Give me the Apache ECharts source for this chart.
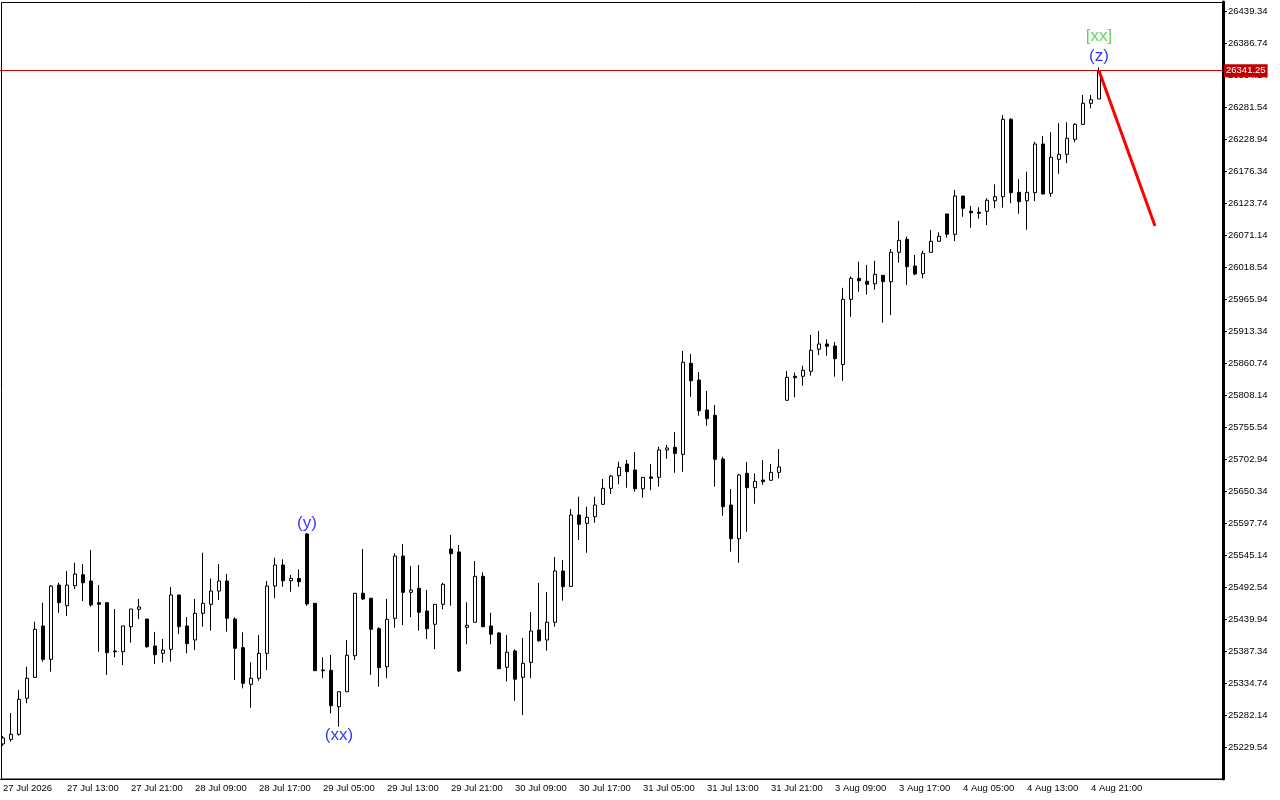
<!DOCTYPE html>
<html>
<head>
<meta charset="utf-8">
<title>Hourly candles</title>
<script src="https://cdn.jsdelivr.net/npm/echarts@6/dist/echarts.min.js"></script>
<style>
  html, body { margin: 0; padding: 0; background: #fff; }
  #chart { width: 1280px; height: 800px; }
</style>
</head>
<body>
<div id="chart"></div>
<script>
// time axis labels, one every 8 hourly bars
const timeLabels = [
  '27 Jul 2026', '27 Jul 13:00', '27 Jul 21:00', '28 Jul 09:00', '28 Jul 17:00',
  '29 Jul 05:00', '29 Jul 13:00', '29 Jul 21:00', '30 Jul 09:00', '30 Jul 17:00',
  '31 Jul 05:00', '31 Jul 13:00', '31 Jul 21:00', '3 Aug 09:00', '3 Aug 17:00',
  '4 Aug 05:00', '4 Aug 13:00', '4 Aug 21:00'
];

// price scale labels
const yTicks = [
  26439.34, 26386.74, 26334.14, 26281.54, 26228.94, 26176.34, 26123.74, 26071.14,
  26018.54, 25965.94, 25913.34, 25860.74, 25808.14, 25755.54, 25702.94, 25650.34,
  25597.74, 25545.14, 25492.54, 25439.94, 25387.34, 25334.74, 25282.14, 25229.54
];

// hourly bars: [open, close, low, high]
const bars = [
  [25234.5, 25244.3, 25231.2, 25247.6],
  [25242.2, 25250.4, 25238.2, 25285.4],
  [25250.4, 25308.0, 25248.1, 25323.2],
  [25309.6, 25342.5, 25301.4, 25361.5],
  [25344.1, 25423.0, 25343.0, 25435.5],
  [25428.5, 25373.7, 25369.8, 25466.8],
  [25373.7, 25494.1, 25353.3, 25495.7],
  [25495.7, 25466.8, 25450.3, 25499.5],
  [25461.8, 25495.7, 25444.9, 25518.8],
  [25494.6, 25513.9, 25489.2, 25532.4],
  [25512.7, 25499.5, 25469.6, 25530.3],
  [25502.3, 25463.0, 25460.2, 25553.3],
  [25466.8, 25464.1, 25386.2, 25495.7],
  [25466.8, 25384.6, 25348.1, 25466.8],
  [25387.4, 25386.2, 25377.1, 25456.4],
  [25386.2, 25428.5, 25364.4, 25428.5],
  [25427.3, 25456.4, 25401.0, 25456.4],
  [25455.9, 25459.7, 25439.9, 25472.8],
  [25439.9, 25394.4, 25392.7, 25439.9],
  [25395.5, 25381.2, 25366.0, 25418.6],
  [25383.5, 25388.9, 25368.1, 25407.0],
  [25390.1, 25479.4, 25369.8, 25492.5],
  [25479.4, 25427.3, 25415.3, 25479.4],
  [25428.5, 25399.4, 25383.5, 25443.2],
  [25405.4, 25449.3, 25388.9, 25472.8],
  [25449.3, 25465.8, 25427.3, 25548.9],
  [25464.1, 25485.9, 25420.7, 25506.6],
  [25485.9, 25502.3, 25471.2, 25530.3],
  [25502.3, 25441.1, 25419.1, 25513.9],
  [25439.9, 25391.8, 25339.7, 25442.7],
  [25392.8, 25334.2, 25326.0, 25418.1],
  [25332.6, 25342.5, 25294.1, 25368.8],
  [25342.5, 25383.5, 25338.5, 25413.6],
  [25383.5, 25494.1, 25356.1, 25502.3],
  [25494.1, 25528.6, 25474.0, 25540.7],
  [25528.6, 25502.8, 25493.0, 25538.0],
  [25502.8, 25506.6, 25484.7, 25512.2],
  [25506.6, 25501.1, 25493.0, 25521.6],
  [25579.6, 25464.6, 25461.3, 25581.2],
  [25465.8, 25355.0, 25355.0, 25465.8],
  [25356.1, 25355.0, 25342.6, 25377.1],
  [25355.6, 25297.4, 25284.9, 25380.8],
  [25295.8, 25320.4, 25262.9, 25320.4],
  [25320.4, 25380.3, 25320.4, 25405.4],
  [25379.6, 25482.2, 25372.5, 25482.2],
  [25482.2, 25472.8, 25471.2, 25554.9],
  [25474.0, 25423.0, 25348.1, 25474.0],
  [25424.0, 25359.9, 25328.6, 25426.3],
  [25361.5, 25439.4, 25342.6, 25472.8],
  [25441.1, 25543.4, 25425.6, 25547.9],
  [25543.4, 25483.8, 25430.1, 25563.2],
  [25483.8, 25487.6, 25443.0, 25527.0],
  [25490.4, 25450.9, 25420.7, 25528.6],
  [25453.1, 25424.0, 25406.9, 25487.6],
  [25431.3, 25464.1, 25390.5, 25464.1],
  [25464.1, 25497.0, 25455.9, 25499.5],
  [25554.9, 25547.2, 25461.8, 25578.0],
  [25550.0, 25354.5, 25352.8, 25561.5],
  [25426.3, 25429.6, 25398.4, 25467.4],
  [25434.6, 25510.1, 25434.6, 25535.3],
  [25510.1, 25427.3, 25426.3, 25516.7],
  [25428.5, 25414.8, 25398.4, 25450.3],
  [25417.0, 25358.3, 25357.3, 25418.1],
  [25360.6, 25385.3, 25337.2, 25413.6],
  [25387.4, 25341.0, 25305.7, 25390.1],
  [25344.1, 25367.1, 25282.1, 25408.7],
  [25368.7, 25420.2, 25342.6, 25451.4],
  [25421.8, 25404.2, 25402.6, 25499.1],
  [25405.4, 25434.6, 25387.9, 25484.3],
  [25434.6, 25518.8, 25427.3, 25541.8],
  [25518.8, 25493.0, 25470.1, 25536.9],
  [25493.6, 25610.8, 25493.6, 25620.7],
  [25610.8, 25595.6, 25569.7, 25640.9],
  [25597.2, 25607.1, 25548.9, 25624.5],
  [25608.0, 25627.3, 25598.2, 25640.9],
  [25628.4, 25654.7, 25628.4, 25670.0],
  [25654.7, 25674.9, 25645.4, 25676.6],
  [25675.5, 25689.3, 25661.3, 25698.5],
  [25694.7, 25682.0, 25655.7, 25701.3],
  [25684.8, 25654.0, 25649.1, 25714.4],
  [25654.0, 25672.8, 25639.3, 25672.8],
  [25673.3, 25671.2, 25651.8, 25694.7],
  [25672.8, 25717.7, 25657.4, 25723.1],
  [25717.7, 25721.0, 25703.4, 25725.9],
  [25722.1, 25712.2, 25680.3, 25747.3],
  [25710.6, 25861.9, 25681.9, 25880.5],
  [25860.2, 25831.6, 25805.3, 25875.5],
  [25832.8, 25782.3, 25774.1, 25845.9],
  [25783.5, 25769.2, 25757.6, 25814.7],
  [25774.7, 25702.4, 25657.4, 25791.7],
  [25702.9, 25624.5, 25609.7, 25706.7],
  [25627.3, 25571.9, 25550.6, 25653.6],
  [25571.9, 25676.6, 25532.4, 25678.2],
  [25679.4, 25655.7, 25583.4, 25697.9],
  [25655.7, 25666.2, 25629.4, 25679.4],
  [25668.4, 25665.6, 25660.5, 25701.3],
  [25667.9, 25681.0, 25667.9, 25694.7],
  [25681.0, 25689.8, 25671.2, 25719.3],
  [25799.4, 25837.2, 25799.4, 25847.6],
  [25838.9, 25836.6, 25804.3, 25844.8],
  [25838.9, 25848.7, 25823.4, 25856.3],
  [25847.1, 25881.6, 25839.9, 25906.8],
  [25883.3, 25892.0, 25873.8, 25913.3],
  [25892.0, 25888.2, 25872.7, 25899.7],
  [25888.7, 25867.8, 25838.3, 25895.3],
  [25858.3, 25965.4, 25831.6, 25984.3],
  [25965.4, 25999.9, 25936.9, 26003.2],
  [25999.9, 25996.0, 25978.0, 26027.3],
  [25995.0, 25990.1, 25973.1, 26022.0],
  [25991.0, 26006.5, 25981.3, 26028.9],
  [26004.9, 25994.4, 25927.0, 26004.9],
  [25994.4, 26042.7, 25939.6, 26048.1],
  [26042.7, 26062.4, 26025.6, 26094.2],
  [26064.1, 26019.0, 25989.2, 26068.3],
  [26020.2, 26007.0, 26004.9, 26038.3],
  [26007.5, 26041.0, 26000.0, 26045.3],
  [26042.7, 26060.8, 26042.7, 26079.4],
  [26060.8, 26069.0, 26060.8, 26075.6],
  [26105.7, 26072.3, 26066.8, 26105.7],
  [26072.3, 26135.2, 26061.3, 26145.1],
  [26135.2, 26115.1, 26101.2, 26135.2],
  [26110.1, 26107.8, 26083.1, 26118.8],
  [26108.4, 26106.8, 26098.0, 26116.7],
  [26110.1, 26128.2, 26087.6, 26131.5],
  [26127.5, 26134.1, 26115.1, 26154.4],
  [26134.1, 26261.3, 26116.1, 26268.4],
  [26261.3, 26140.7, 26123.3, 26263.0],
  [26141.3, 26125.9, 26106.1, 26162.8],
  [26127.5, 26141.3, 26079.8, 26175.3],
  [26140.7, 26220.7, 26127.0, 26224.5],
  [26220.7, 26138.6, 26138.1, 26233.9],
  [26139.7, 26198.9, 26134.1, 26240.0],
  [26195.6, 26203.8, 26171.7, 26254.8],
  [26203.8, 26230.1, 26189.3, 26256.4],
  [26228.5, 26253.1, 26223.6, 26254.8],
  [26253.1, 26287.6, 26252.0, 26301.2],
  [26287.6, 26293.5, 26279.4, 26301.2],
  [26294.7, 26341.25, 26294.7, 26346.8]
];

// number of bar slots on the axis (empty space right of the last bar)
const slotCount = 153;
const lastPrice = 26341.25;

// red projection line: [bar index, price]
const projection = [[137, 26341.25], [144, 26085.9]];

// wave labels: [bar index, text, 'high' | 'low']
const waveLabels = [
  [38, '(y)', 'high'],
  [42, '(xx)', 'low'],
  [137, '{g|[xx]}\n{b|(z)}', 'high']
];

const categories = [];
for (let i = 0; i < slotCount; i++) categories.push(String(i));

function tickShown(index) {
  return index % 8 === 0 && index / 8 < timeLabels.length;
}

const labelPoints = waveLabels.map(w => {
  const bar = bars[w[0]];
  return {
    value: [w[0], w[2] === 'high' ? bar[3] : bar[2]],
    label: {
      formatter: w[1],
      position: w[2] === 'high' ? 'top' : 'bottom',
      distance: w[2] === 'high' ? 1 : 0
    }
  };
});

const chart = echarts.init(document.getElementById('chart'));

chart.setOption({
  animation: false,
  backgroundColor: '#ffffff',
  textStyle: { fontFamily: 'Liberation Sans, Arial, sans-serif' },
  graphic: [{
    type: 'rect',
    shape: { x: 1.5, y: 2.5, width: 1221, height: 776.5 },
    style: { fill: 'none', stroke: '#000', lineWidth: 1 },
    silent: true,
    z: -1
  }],
  grid: {
    left: -1,
    top: 2,
    width: slotCount * 8,
    bottom: 21,
    outerBoundsMode: 'none'
  },
  xAxis: {
    type: 'category',
    data: categories,
    boundaryGap: true,
    axisLine: { lineStyle: { color: '#000', width: 1 } },
    axisTick: {
      alignWithLabel: true,
      interval: tickShown,
      length: 4,
      lineStyle: { color: '#000' }
    },
    axisLabel: {
      interval: tickShown,
      align: 'left',
      margin: 4,
      color: '#000',
      fontSize: 9.5,
      formatter: (v, i) => timeLabels[i / 8] || ''
    },
    splitLine: { show: false }
  },
  yAxis: {
    type: 'value',
    position: 'right',
    min: 25176.94,
    max: 26454.13,
    axisLine: { show: true, lineStyle: { color: '#000', width: 3 } },
    axisTick: {
      show: true,
      length: 4,
      customValues: yTicks,
      lineStyle: { color: '#000' }
    },
    axisLabel: {
      customValues: yTicks,
      margin: 5,
      color: '#000',
      fontSize: 9.5,
      formatter: v => v.toFixed(2)
    },
    splitLine: { show: false }
  },
  series: [
    {
      type: 'candlestick',
      data: bars,
      barWidth: 4,
      itemStyle: {
        color: '#ffffff',
        color0: '#000000',
        borderColor: '#000000',
        borderColor0: '#000000',
        borderColorDoji: '#000000',
        borderWidth: 1
      },
      markLine: {
        silent: true,
        symbol: 'none',
        animation: false,
        lineStyle: { color: '#c00000', width: 1, type: 'solid' },
        label: {
          position: 'end',
          distance: 1,
          formatter: lastPrice.toFixed(2),
          color: '#ffffff',
          backgroundColor: '#c00000',
          fontSize: 9.5,
          padding: [2, 2, 1, 2]
        },
        data: [{ yAxis: lastPrice }]
      }
    },
    {
      type: 'line',
      data: projection,
      showSymbol: false,
      symbol: 'none',
      lineStyle: { color: '#ff0000', width: 3 },
      z: 5
    },
    {
      type: 'scatter',
      data: labelPoints,
      symbolSize: 0,
      silent: true,
      z: 6,
      label: {
        show: true,
        color: '#0000ff',
        fontSize: 17,
        fontFamily: 'Liberation Sans, Arial, sans-serif',
        rich: {
          g: { color: '#3cc83c', fontSize: 17, lineHeight: 20 },
          b: { color: '#0000ff', fontSize: 17, lineHeight: 20 }
        }
      }
    }
  ]
});
</script>
</body>
</html>
